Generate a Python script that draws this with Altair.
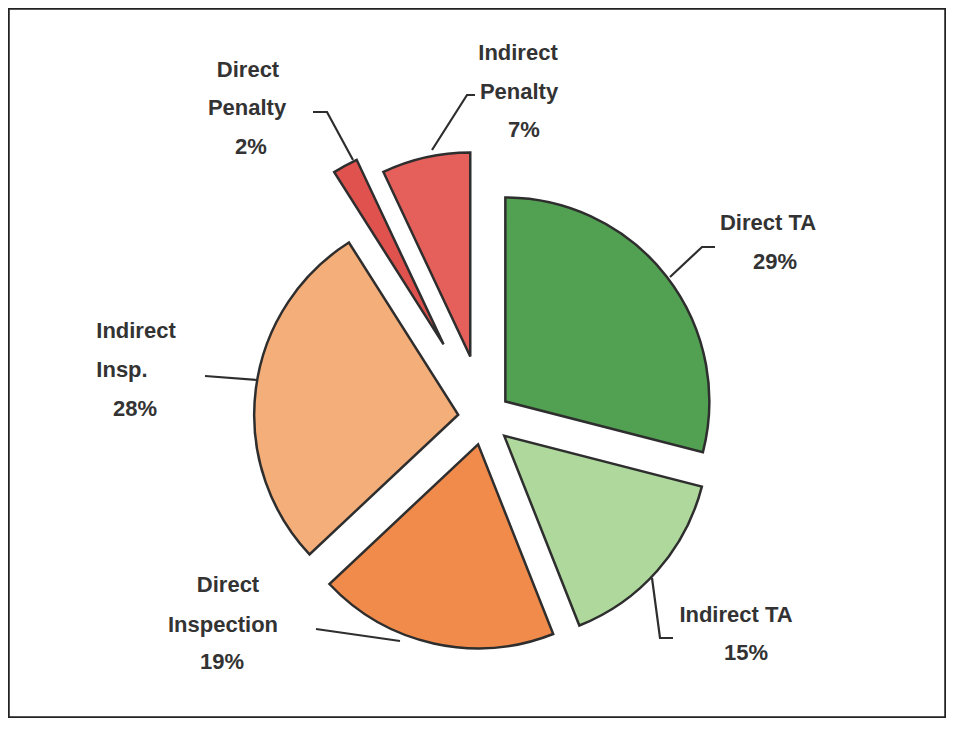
import altair as alt
import pandas as pd

# ---- data ----
names = ["Direct TA", "Indirect TA", "Direct Inspection", "Indirect Insp.", "Direct Penalty", "Indirect Penalty"]
values = [29, 15, 19, 28, 2, 7]

# ---- style / layout ----
colors = ["#52a052", "#aed89c", "#f18b4b", "#f4ae7a", "#df524d", "#e6605b"]
explode = [27, 27, 27, 26, 84, 63]
W, H = 938, 710
CX, CY, R = 484, 418, 204
TXT = "#333333"

label_text = ["Direct", "Penalty", "2%",
              "Indirect", "Penalty", "7%",
              "Direct TA", "29%",
              "Indirect TA", "15%",
              "Direct", "Inspection", "19%",
              "Indirect", "Insp.", "28%"]
label_x = [248, 247, 251, 518, 519, 524, 768, 775, 736, 746, 228, 223, 222, 136, 122, 135]
label_y = [70, 108, 147, 53, 92, 130, 223, 262, 615, 653, 585, 625, 662, 331, 370, 409]

leaders = [
    [(313, 112), (327, 112), (353, 160)],
    [(432, 150), (467, 95), (475, 95)],
    [(670, 277), (702, 247), (715, 247)],
    [(652, 578), (660, 638), (673, 638)],
    [(316, 629), (400, 641)],
    [(205, 376), (257, 380)],
]

pie_df = pd.DataFrame({"name": names, "value": values, "order": list(range(len(names))),
                       "explode": explode})
lab_df = pd.DataFrame({"text": label_text, "x": label_x, "y": label_y})
rows = []
for i, pts in enumerate(leaders):
    for j, (px, py) in enumerate(pts):
        rows.append({"id": i, "seq": j, "x": px, "y": py})
lead_df = pd.DataFrame(rows)

xs = alt.Scale(domain=[8, 8 + W], nice=False, zero=False)
ys = alt.Scale(domain=[8, 8 + H], nice=False, zero=False, reverse=True)

pie = alt.Chart(pie_df).transform_window(
    cum="sum(value)", sort=[alt.SortField("order")], frame=[None, 0]
).transform_calculate(
    t1="datum.cum / 100 * 2 * PI",
    t0="(datum.cum - datum.value) / 100 * 2 * PI",
).transform_calculate(
    mid="(datum.t0 + datum.t1) / 2"
).transform_calculate(
    cx=f"{CX} + datum.explode * sin(datum.mid)",
    cy=f"{CY} - datum.explode * cos(datum.mid)",
).mark_arc(radius=R, stroke="#2e2e2e", strokeWidth=2.5, strokeJoin="miter").encode(
    x=alt.X("cx:Q", scale=xs, axis=None),
    y=alt.Y("cy:Q", scale=ys, axis=None),
    theta=alt.Theta("t0:Q", scale=None),
    theta2="t1:Q",
    fill=alt.Fill("name:N", scale=alt.Scale(domain=names, range=colors), legend=None),
)

lines = alt.Chart(lead_df).mark_line(color="#2e2e2e", strokeWidth=2.2).encode(
    x=alt.X("x:Q", scale=xs, axis=None),
    y=alt.Y("y:Q", scale=ys, axis=None),
    detail="id:N",
    order="seq:Q",
)

texts = alt.Chart(lab_df).mark_text(
    font="Liberation Sans", fontWeight="bold", fontSize=22, color=TXT,
    align="center", baseline="middle"
).encode(
    x=alt.X("x:Q", scale=xs, axis=None),
    y=alt.Y("y:Q", scale=ys, axis=None),
    text="text:N",
)

chart = alt.layer(pie, lines, texts).properties(
    width=W, height=H, padding=0, background="white"
).configure_view(stroke="#222222", strokeWidth=3.5)

chart.save("out.html", embed_options={"renderer": "svg", "actions": False})
